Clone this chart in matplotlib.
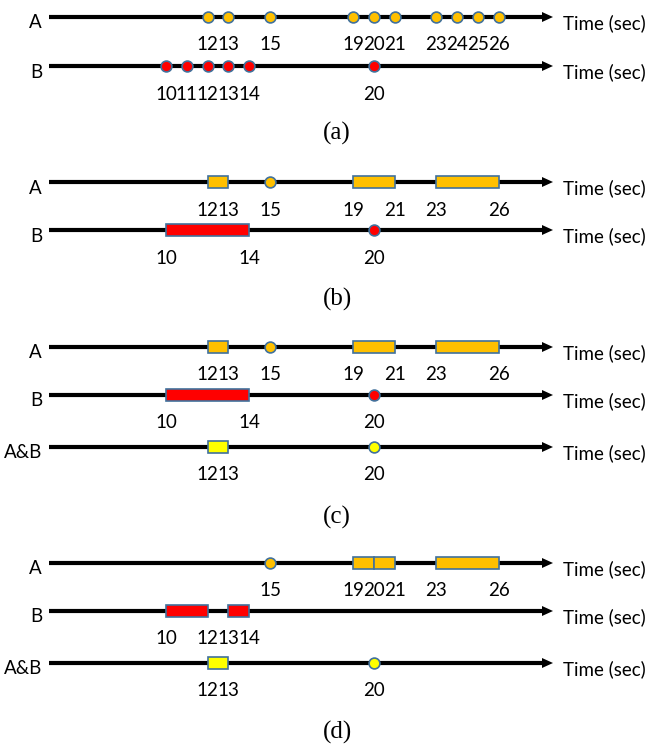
import matplotlib
matplotlib.use("Agg")
import matplotlib.pyplot as plt
from matplotlib.patches import Rectangle, Polygon

# event times per stream (sec)
A_EVENTS = [12, 13, 15, 19, 20, 21, 23, 24, 25, 26]
B_EVENTS = [10, 11, 12, 13, 14, 20]

# (b) merged consecutive events into intervals
B_A_SPANS = [(12, 13), (19, 21), (23, 26)]
B_A_POINTS = [15]
B_A_LABELS = [12, 13, 15, 19, 21, 23, 26]
B_B_SPANS = [(10, 14)]
B_B_POINTS = [20]
B_B_LABELS = [10, 14, 20]

# (c) adds the intersection A&B
AB_SPANS = [(12, 13)]
AB_POINTS = [20]
AB_LABELS = [12, 13, 20]

# (d) intervals split
D_A_SPANS = [(19, 20), (20, 21), (23, 26)]
D_A_POINTS = [15]
D_A_LABELS = [15, 19, 20, 21, 23, 26]
D_B_SPANS = [(10, 12), (13, 14)]
D_B_POINTS = []
D_B_LABELS = [10, 12, 13, 14]

ORANGE = "#FFC000"
RED = "#FF0000"
YELLOW = "#FFFF00"
EDGE = "#41719C"

W, H = 646, 750
PX_T10 = 166.0   # pixel column of t=10
PX_PER_SEC = 20.8


def px(x):
    """pixel column -> time units"""
    return 10 + (x - PX_T10) / PX_PER_SEC


SANS = ["Lato", "DejaVu Sans"]
FS = 13.5


def timeline(ax, y, name, color, spans, points, labels):
    x0, tip = px(49), px(553)
    head = 11 / PX_PER_SEC
    ax.plot([x0, tip - head + 0.05], [y, y], color="black", lw=3, solid_capstyle="butt", zorder=1)
    ax.add_patch(Polygon([[tip - head, y - 5], [tip, y], [tip - head, y + 5]],
                         closed=True, fc="black", ec="none", zorder=1))
    for t0, t1 in spans:
        ax.add_patch(Rectangle((t0, y - 6), t1 - t0, 12, fc=color, ec=EDGE, lw=1.2, zorder=3))
    if points:
        ax.plot(points, [y] * len(points), "o", ms=7.8, mfc=color, mec=EDGE, mew=1.2, zorder=4)
    for t in labels:
        ax.text(t, y + 28, str(t), ha="center", va="center", fontsize=FS, family=SANS)
    ax.text(px(42), y + 6, name, ha="right", va="center", fontsize=FS, family=SANS)
    ax.text(px(563), y + 6, "Time (sec)", ha="left", va="center", fontsize=FS, family=SANS)


def caption(ax, y, s):
    ax.text(px(337), y, s, ha="center", va="center", fontsize=18, family="Liberation Serif")


fig = plt.figure(figsize=(W / 100, H / 100), dpi=100)
ax = fig.add_axes([0, 0, 1, 1])
ax.set_xlim(px(0), px(W))
ax.set_ylim(H, 0)
ax.axis("off")

# (a) raw events
timeline(ax, 17, "A", ORANGE, [], A_EVENTS, A_EVENTS)
timeline(ax, 66, "B", RED, [], B_EVENTS, B_EVENTS)
caption(ax, 133, "(a)")

# (b)
timeline(ax, 182, "A", ORANGE, B_A_SPANS, B_A_POINTS, B_A_LABELS)
timeline(ax, 230, "B", RED, B_B_SPANS, B_B_POINTS, B_B_LABELS)
caption(ax, 299, "(b)")

# (c)
timeline(ax, 347, "A", ORANGE, B_A_SPANS, B_A_POINTS, B_A_LABELS)
timeline(ax, 395, "B", RED, B_B_SPANS, B_B_POINTS, B_B_LABELS)
timeline(ax, 447, "A&B", YELLOW, AB_SPANS, AB_POINTS, AB_LABELS)
caption(ax, 517, "(c)")

# (d)
timeline(ax, 563, "A", ORANGE, D_A_SPANS, D_A_POINTS, D_A_LABELS)
timeline(ax, 611, "B", RED, D_B_SPANS, D_B_POINTS, D_B_LABELS)
timeline(ax, 663, "A&B", YELLOW, AB_SPANS, AB_POINTS, AB_LABELS)
caption(ax, 732, "(d)")

fig.savefig("out.png", dpi=100)
